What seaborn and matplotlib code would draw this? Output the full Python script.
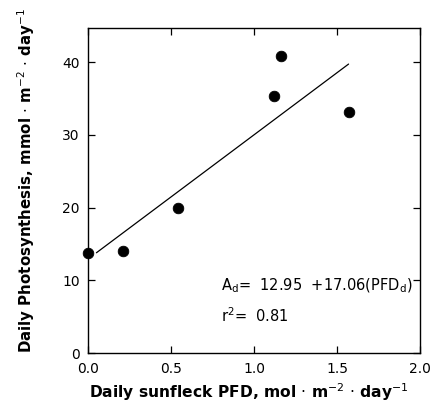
import numpy as np
import pandas as pd
import seaborn as sns
import matplotlib.pyplot as plt

# data
sunfleck_pfd = [0.0, 0.21, 0.54, 1.12, 1.165, 1.57]
daily_photo = [13.8, 14.1, 20.0, 35.4, 40.9, 33.1]

# regression line A_d = 12.95 + 17.06 * PFD_d
fit_x = [0.05, 1.57]
intercept = 12.95
slope = 17.06

x_ticks = [0.0, 0.5, 1.0, 1.5, 2.0]
y_ticks = [0, 10, 20, 30, 40]

df = pd.DataFrame({'pfd': sunfleck_pfd, 'A': daily_photo})
fit = pd.DataFrame({'pfd': fit_x, 'A': [intercept + slope * v for v in fit_x]})

sns.set_style('ticks')
plt.rcParams['font.family'] = ['DejaVu Sans']
plt.rcParams['text.color'] = 'black'
plt.rcParams['axes.labelcolor'] = 'black'
plt.rcParams['xtick.color'] = 'black'
plt.rcParams['ytick.color'] = 'black'

fig = plt.figure(figsize=(4.32, 4.17), dpi=100)
ax = fig.add_axes([0.204, 0.153, 0.768, 0.78])

sns.lineplot(data=fit, x='pfd', y='A', color='black', linewidth=0.9, ax=ax)
sns.scatterplot(data=df, x='pfd', y='A', color='black', s=58, edgecolor='black',
                ax=ax, zorder=3, clip_on=False)

ax.set_xlim(0, 2.0)
ax.set_ylim(0, 44.7)
ax.set_xticks(x_ticks)
ax.set_xticklabels([f'{v:.1f}' for v in x_ticks])
ax.set_yticks(y_ticks)
ax.tick_params(direction='in', top=True, right=True, labeltop=False, labelright=False,
               length=5, width=0.9, labelsize=10, pad=6)
for sp in ax.spines.values():
    sp.set_linewidth(1.0)
    sp.set_color('black')

ax.set_xlabel(r'Daily sunfleck PFD, mol $\cdot$ m$^{-2}$ $\cdot$ day$^{-1}$',
              fontsize=11.2, fontweight='bold')
ax.xaxis.set_label_coords(0.485, -0.085)
ax.set_ylabel(r'Daily Photosynthesis, mmol $\cdot$ m$^{-2}$ $\cdot$ day$^{-1}$',
              fontsize=10.8, fontweight='bold')
ax.yaxis.set_label_coords(-0.155, 0.53)

ax.text(0.80, 8.6, r'A$_{\rm d}$=  12.95  +17.06(PFD$_{\rm d}$)', fontsize=10.5)
ax.text(0.80, 4.3, r'r$^{2}$=  0.81', fontsize=10.5)

plt.savefig('out.png', dpi=100)
